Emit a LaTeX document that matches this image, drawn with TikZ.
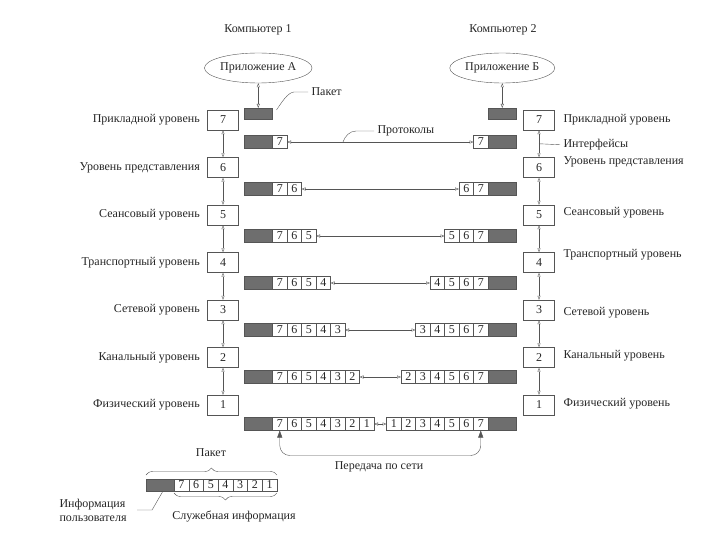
\documentclass[tikz,border=0pt]{standalone}
\usepackage{fontspec}
\setmainfont{Liberation Serif}
\usetikzlibrary{positioning,calc,shapes.geometric,arrows.meta,decorations.pathreplacing}
\definecolor{pktgray}{RGB}{110,110,110}
\definecolor{linegray}{RGB}{85,85,85}
\tikzset{
  lay/.style={draw=linegray,minimum width=31pt,minimum height=20pt,inner sep=0pt},
  cell/.style={draw=linegray,minimum width=14.5pt,minimum height=13pt,inner sep=0pt,outer sep=0pt},
  grayblock/.style={draw=linegray,fill=pktgray,minimum width=28.5pt,minimum height=13pt,inner sep=0pt,outer sep=0pt},
  app/.style={ellipse,draw=linegray,minimum width=94pt,minimum height=30pt,inner sep=0pt},
  bigtip/.style={>={Triangle[length=7pt,width=5pt]}},
  brc/.style={-,decorate,decoration={brace,amplitude=7pt}}
}

\begin{document}
\begin{tikzpicture}[x=1pt,y=-1pt,<->,>={Triangle[open,length=4pt,width=3pt]},draw=linegray,text=black!85,font=\fontsize{12}{14}\selectfont]
\useasboundingbox (0,0) rectangle (720,540);
% computers
\node (comp1) at (258,30) {Компьютер 1};
\node (comp2) at (503,30) {Компьютер 2};
\node[app] (appA) at (258.25,68) {Приложение А};
\node[app] (appB) at (502.25,68) {Приложение Б};
\node[grayblock,minimum height=11pt] (pA) at (258.25,113.5) {};
\node[grayblock,minimum height=11pt] (pB) at (502.25,113.5) {};
\draw (appA) -- (pA);
\draw (appB) -- (pB);
\node[anchor=west] (pkt) at (308,92) {Пакет};
\draw[-] (pkt.west) -- ++(-14,0) .. controls +(-6,0) and +(4,-6) .. ([shift={(4,2)}]pA.north east);
% layers
\foreach \k/\name/\ry in {7/Прикладной уровень/120,6/Уровень представления/162,5/Сеансовый уровень/213,
  4/Транспортный уровень/255,3/Сетевой уровень/313,2/Канальный уровень/356,1/Физический уровень/404}{
  \pgfmathsetmacro\ly{120+47.5*(7-\k)}
  \node[lay] (L\k) at (223,\ly) {\k};
  \node[lay] (R\k) at (539,\ly) {\k};
  \node[left=4pt of L\k] (ln\k) {\name};
  \node[anchor=west] (rn\k) at (560,\ry) {\name};
}
\foreach \k [evaluate=\k as \j using int(\k-1)] in {7,...,2}{
  \draw (L\k) -- (L\j);
  \draw (R\k) -- (R\j);
}
% packets on each level
\foreach \k in {7,...,1}{
  \pgfmathsetmacro\yy{142+47*(7-\k)}
  \node[grayblock] (lg\k) at (258.25,\yy) {};
  \node[grayblock] (rg\k) at (502.25,\yy) {};
  \foreach \v in {7,...,\k}{
    \node[cell] (l\k-\v) at ({279.75+14.5*(7-\v)},\yy) {\v};
    \node[cell] (r\k-\v) at ({480.75-14.5*(7-\v)},\yy) {\v};
  }
  \draw (l\k-\k) -- (r\k-\k);
}
\coordinate (ifc) at ($(R7.south)!0.5!(R6.north)$);
\node[anchor=west] (intf) at ($(ifc)+(21,1)$) {Интерфейсы};
\draw[-] (ifc) -- (intf.west);
\coordinate (pc) at ($(l7-7.east)!0.3!(r7-7.west)$);
\node[anchor=west] (prot) at (374,131) {Протоколы};
\draw[-] (prot.west) -- ++(-18,0) .. controls +(-6,0) and +(2,-6) .. (pc);
\draw[bigtip,rounded corners=10pt] (l1-7.south) -- ++(0,25) -| (r1-7.south);
\node (net) at (379,467) {Передача по сети};
% legend
\node[grayblock,minimum width=28pt,minimum height=12pt] (ug) at (160,485) {};
\foreach \v [count=\i] in {7,...,1}
  \node[cell,minimum width=14.7pt,minimum height=12pt] (u\v) at ({174+14.7*\i-7.35},485) {\v};
\draw[brc] ([yshift=4pt]ug.north west) -- ([yshift=4pt]u1.north east);
\node (upkt) at (211,453) {Пакет};
\draw[brc] ([yshift=-2pt]u1.south east) -- ([yshift=-2pt]u7.south west);
\node (usrv) at (234,516) {Служебная информация};
\node[align=left,anchor=west] (uinfo) at (56,510) {Информация\\пользователя};
\draw[-] ([xshift=7pt]uinfo.east) -- ++(15,0) -- ([xshift=3pt]ug.south);
\end{tikzpicture}
\end{document}
